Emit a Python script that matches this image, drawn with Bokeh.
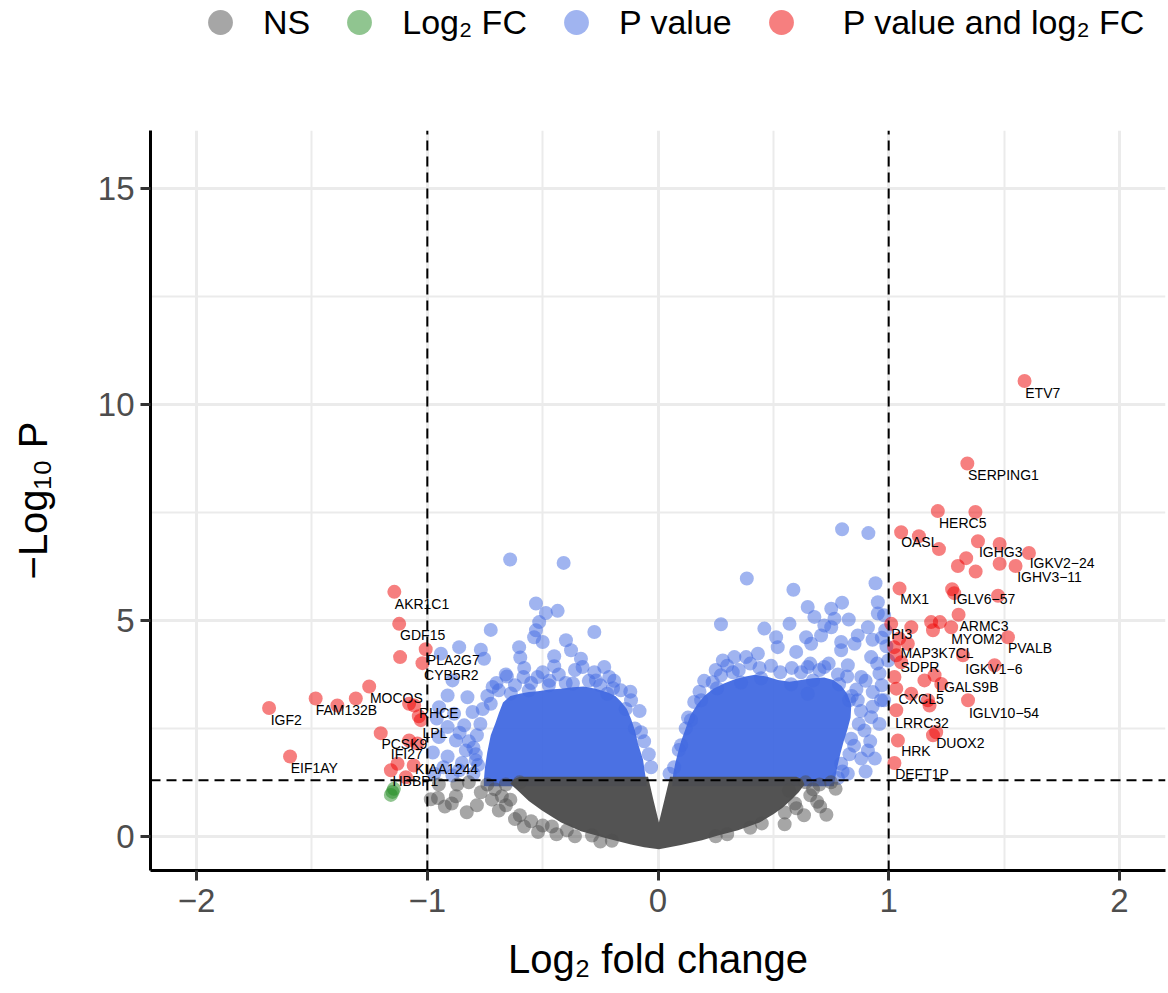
from bokeh.plotting import figure
from bokeh.models import (Range1d, FixedTicker, Legend, LegendItem, ColumnDataSource)
from bokeh.layouts import column
from bokeh.core.properties import value
from bokeh.embed import file_html
from bokeh.resources import INLINE
import math

# ---------------- data ----------------
fc_cutoff = 1.0
p_cutoff = 0.05

x_lo, x_hi = -2.2, 2.2
y_lo, y_hi = -0.79, 16.34

x_ticks = [-2, -1, 0, 1, 2]
x_minor = [-1.5, -0.5, 0.5, 1.5]
y_ticks = [0, 5, 10, 15]
y_minor = [2.5, 7.5, 12.5]

# dense cores of the cloud (envelopes of heavily overlapping points)
blue_left_x = [-0.755, -0.755, -0.750, -0.740, -0.725, -0.705, -0.690, -0.672, -0.640, -0.600, -0.560, -0.521,
               -0.470, -0.421, -0.370, -0.321, -0.270, -0.217, -0.185, -0.161, -0.135, -0.117, -0.100, -0.087,
               -0.065, -0.048]
blue_left_y = [1.16, 1.30, 1.60, 1.95, 2.34, 2.62, 2.85, 3.10, 3.25, 3.30, 3.34, 3.36, 3.40, 3.42, 3.45, 3.47,
               3.42, 3.33, 3.25, 3.12, 2.95, 2.72, 2.45, 2.15, 1.78, 1.16]
blue_right_x = [0.061, 0.066, 0.075, 0.087, 0.100, 0.120, 0.140, 0.170, 0.200, 0.240, 0.286, 0.330, 0.380,
                0.420, 0.470, 0.520, 0.570, 0.620, 0.670, 0.720, 0.760, 0.795, 0.820, 0.838, 0.835, 0.820,
                0.805, 0.790, 0.775, 0.762]
blue_right_y = [1.16, 1.45, 1.70, 1.95, 2.20, 2.50, 2.80, 3.05, 3.25, 3.42, 3.54, 3.63, 3.70, 3.74, 3.70, 3.62,
                3.58, 3.62, 3.66, 3.68, 3.62, 3.48, 3.30, 3.05, 2.75, 2.45, 2.20, 1.90, 1.55, 1.16]
grey_core_x = [-0.640, -0.625, -0.600, -0.043, -0.020, 0.004, 0.028, 0.052, 0.600, 0.625, 0.635, 0.610,
               0.580, 0.540, 0.500, 0.440, 0.347, 0.260, 0.191, 0.100, 0.004, -0.060, -0.117, -0.220,
               -0.334, -0.420, -0.503, -0.560, -0.600]
grey_core_y = [1.22, 1.32, 1.38, 1.38, 0.85, 0.32, 0.85, 1.38, 1.38, 1.32, 1.20, 1.02, 0.86, 0.66, 0.51, 0.32,
               0.14, 0.02, -0.09, -0.20, -0.30, -0.25, -0.19, -0.05, 0.12, 0.32, 0.60, 0.82, 1.02]

# NS (grey) individual points
ns_x = [-0.954, -0.924, -0.876, -0.829, -0.785, -0.768, -0.707, -0.677, -0.599, -0.581, -0.460, -0.395, -0.286,
        0.549, 0.633, 0.703, 0.594, 0.672, -0.985, -0.894, -0.659, 0.568,
        -0.74, -0.72, -0.69, -0.66, -0.64, -0.62, -0.55, -0.52, -0.50, -0.44, -0.36, -0.25, -0.20, -0.87,
        -0.82, -0.95, -0.60, 0.64, 0.66, 0.69, 0.70, 0.60, 0.55, 0.45, 0.40, 0.30, 0.25, 0.75, 0.73, 0.77]
ns_y = [0.89, 0.69, 0.93, 0.56, 0.72, 1.02, 1.09, 0.93, 0.49, 0.23, 0.23, 0.14, 0.02,
        0.28, 0.49, 0.69, 0.76, 1.09, 0.86, 0.76, 0.72, 1.06,
        1.20, 0.85, 0.60, 1.20, 0.85, 0.40, 0.35, 0.10, 0.25, 0.05, 0.00, -0.12, -0.10, 1.20,
        1.25, 1.20, 1.25, 1.25, 0.95, 0.80, 1.20, 0.65, 0.55, 0.30, 0.20, 0.05, 0.00, 1.25, 0.50, 1.10]

# Log2 FC only (green)
fc_x = [-1.151, -1.158, -1.145]
fc_y = [1.03, 0.96, 1.10]

# P value only (blue)
pv_x = [-0.641, -0.409, -0.529, -0.486, -0.435, -0.515, -0.529, -0.537, -0.725, -0.276, -0.602, -0.399, -0.500,
        -0.862, -0.768, -0.941, -0.597, -0.450, -0.377, -0.334, -0.754, -0.450, -0.327, -0.233, -0.276, -0.211,
        -0.655, -0.583, -0.522, -0.891, -0.717, -0.912, -0.826, -0.725, -0.949, -0.884, -0.804, -0.840, -0.912,
        -0.876, -0.833, -0.912, -0.862, -0.891, -0.976, -0.959, -0.785, -0.790, -0.074, -0.117, -0.161, -0.690,
        -0.638, -0.560, -0.473, -0.369, -0.269, -0.195,
        -0.80, -0.78, -0.80, -0.77, -0.76, -0.74, -0.82, -0.85, -0.86, -0.79, -0.93, -0.95, -0.97,
        -0.70, -0.66, -0.62, -0.58, -0.55, -0.50, -0.47, -0.43, -0.40, -0.36, -0.30, -0.25, -0.22, -0.19,
        -0.14, -0.12, -0.10, -0.08, -0.06, -0.04, -0.03,
        0.798, 0.912, 0.385, 0.587, 0.943, 0.649, 0.751, 0.798, 0.953, 0.678, 0.273, 0.461, 0.570, 0.765, 0.827,
        0.721, 0.512, 0.642, 0.707, 0.751, 0.953, 0.980, 0.910, 0.866, 0.794, 0.852, 0.664, 0.599, 0.519, 0.433,
        0.331, 0.382, 0.281, 0.794, 0.924, 0.823, 0.649, 0.721, 0.324, 0.273, 0.237, 0.960, 0.881, 0.931, 0.967,
        0.866, 0.157, 0.924, 0.895, 0.837, 0.910, 0.881, 0.794, 0.823, 0.649, 0.985, 0.998, 0.980,
        0.187, 0.256, 0.360, 0.447, 0.577, 0.672, 0.785, 0.829, 0.143, 0.100,
        0.18, 0.20, 0.25, 0.30, 0.35, 0.40, 0.44, 0.49, 0.53, 0.58, 0.62, 0.66, 0.70, 0.74, 0.78, 0.82,
        0.86, 0.88, 0.87, 0.85, 0.83, 0.80, 0.78, 0.07, 0.09, 0.12, 0.13, 0.05, 0.90, 0.84,
        0.92, 0.94, 0.90, 0.96, 0.93, 0.97, 0.95, 0.99, 0.97, 0.93]
pv_y = [6.41, 6.33, 5.39, 5.17, 5.22, 4.96, 4.77, 4.61, 4.78, 4.73, 4.38, 4.54, 4.50,
        4.38, 4.32, 4.23, 4.14, 4.17, 4.31, 4.11, 4.11, 3.94, 3.92, 3.92, 3.80, 3.69,
        3.70, 3.69, 3.69, 3.61, 3.46, 3.26, 3.22, 3.07, 2.99, 2.84, 2.88, 2.57, 2.53,
        2.22, 1.99, 1.85, 1.53, 1.41, 1.94, 2.73, 2.34, 1.76, 2.41, 3.15, 3.38, 3.38,
        3.31, 3.38, 3.50, 3.54, 3.61, 3.43,
        1.45, 1.65, 2.05, 2.60, 2.95, 3.25, 2.20, 1.70, 2.40, 1.90, 1.60, 2.30, 1.45,
        3.55, 3.75, 3.50, 3.90, 3.55, 3.80, 3.60, 3.75, 3.55, 3.85, 3.60, 3.50, 3.30, 3.60,
        2.95, 3.35, 2.50, 2.90, 2.20, 1.90, 1.60,
        7.11, 7.02, 5.97, 5.71, 5.86, 5.31, 5.27, 5.41, 5.42, 5.08, 4.91, 4.81, 4.92, 5.04, 5.02,
        4.88, 4.61, 4.61, 4.65, 4.84, 5.16, 5.12, 4.84, 4.65, 4.50, 4.46, 4.46, 4.27, 4.38, 4.23,
        4.15, 4.15, 4.07, 4.31, 4.15, 3.96, 3.92, 3.92, 3.80, 3.73, 3.57, 3.77, 3.69, 3.34, 3.15,
        3.15, 3.11, 2.76, 2.45, 2.26, 1.99, 1.80, 1.68, 1.45, 3.30, 4.77, 4.07, 3.15,
        3.15, 3.43, 3.56, 3.66, 3.52, 3.61, 3.52, 3.15, 2.69, 2.11,
        3.35, 3.60, 3.85, 3.95, 3.85, 4.00, 3.90, 3.95, 3.80, 3.90, 3.80, 4.00, 3.85, 4.00, 3.75, 3.70,
        3.40, 2.90, 2.60, 2.10, 1.90, 1.50, 1.35, 1.60, 2.00, 2.50, 2.75, 1.45, 3.60, 3.25,
        2.20, 1.80, 1.50, 2.60, 3.00, 3.50, 4.00, 4.40, 4.60, 4.55]

# P value and log2 FC (red)
sig_x = [1.589, 1.341, 1.213, 1.376, 1.054, 1.131, 1.218, 1.387, 1.481, 1.608, 1.336, 1.300, 1.550, 1.481, 1.377,
         1.047, 1.275, 1.284, 1.474, 1.303, 1.222, 1.184, 1.271, 1.192, 1.098, 1.011, 1.517, 1.046, 1.024, 1.083,
         1.033, 1.054, 1.322, 1.459, 1.025, 1.155, 1.199, 1.228, 1.033, 1.098, 1.170, 1.177, 1.344, 1.033, 1.192,
         1.206, 1.040, 1.025,
         -1.143, -1.122, -1.007, -1.118, -1.021, -1.252, -1.310, -1.390, -1.484, -1.686, -1.079, -1.057, -1.028,
         -1.037, -1.202, -1.079, -1.043, -1.595, -1.129, -1.158, -1.093, -1.059]
sig_y = [10.54, 8.63, 7.53, 7.51, 7.04, 6.95, 6.65, 6.83, 6.77, 6.56, 6.44, 6.26, 6.26, 6.31, 6.13,
         5.74, 5.72, 5.63, 5.57, 5.13, 4.96, 4.96, 4.84, 4.77, 4.84, 4.92, 4.61, 4.58, 4.38, 4.46,
         4.19, 4.03, 4.19, 3.96, 3.69, 3.61, 3.73, 3.53, 3.42, 3.30, 3.15, 3.03, 3.15, 2.92, 2.34,
         2.41, 2.22, 1.70,
         5.66, 4.92, 4.33, 4.15, 4.01, 3.47, 3.19, 3.03, 3.19, 2.97, 3.07, 3.03, 2.69,
         2.78, 2.39, 2.22, 2.15, 1.85, 1.68, 1.53, 1.37, 1.64]

# gene labels
gene_names = ["ETV7", "SERPING1", "HERC5", "OASL", "IGHG3", "IGKV2\u221224", "IGHV3\u221211", "MX1", "IGLV6\u221257",
              "ARMC3", "PI3", "MYOM2", "PVALB", "MAP3K7CL", "SDPR", "IGKV1\u22126", "LGALS9B", "CXCL5",
              "IGLV10\u221254", "LRRC32", "DUOX2", "HRK", "DEFT1P",
              "AKR1C1", "GDF15", "PLA2G7", "CYB5R2", "MOCOS", "FAM132B", "IGF2", "RHCE", "LPL", "PCSK9",
              "IFI27", "EIF1AY", "KIAA1244", "HBBP1"]
gene_lx = [1.592, 1.344, 1.218, 1.054, 1.391, 1.611, 1.557, 1.050, 1.278,
           1.307, 1.011, 1.271, 1.517, 1.051, 1.051, 1.332, 1.206, 1.043,
           1.348, 1.028, 1.206, 1.054, 1.028,
           -1.141, -1.118, -1.002, -1.014, -1.249, -1.484, -1.679, -1.036, -1.021, -1.199,
           -1.158, -1.592, -1.053, -1.151]
gene_ly = [10.27, 8.36, 7.26, 6.81, 6.58, 6.33, 6.00, 5.49, 5.49,
           4.88, 4.69, 4.58, 4.36, 4.24, 3.91, 3.88, 3.46, 3.17,
           2.86, 2.63, 2.15, 1.97, 1.45,
           5.39, 4.65, 4.09, 3.74, 3.21, 2.93, 2.70, 2.85, 2.40, 2.13,
           1.90, 1.58, 1.57, 1.28]

legend_labels = ["NS", "Log\u2082 FC", "P value", "\u00a0\u00a0P value and log\u2082 FC"]

# ---------------- styles ----------------
FONT = "Liberation Sans"
COL_NS, COL_FC, COL_P, COL_SIG = "#4D4D4D", "#228B22", "#4169E1", "#EE0000"
ALPHA = 0.5
SZ = 14
NAN = float("nan")

# ---------------- legend strip (own small figure above the plot; frames are aligned) ----------------
leg = figure(width=1168, height=130, output_backend="svg", toolbar_location=None,
             x_range=Range1d(0, 1), y_range=Range1d(0, 1),
             x_axis_location=None, y_axis_location=None,
             min_border_left=150, min_border_right=3, min_border_top=0, min_border_bottom=0)
leg.outline_line_color = None
leg.xgrid.visible = False
leg.ygrid.visible = False
# legend keys only: one undefined (NaN) point each, so nothing is drawn in the strip itself
leg_r = [leg.scatter(x=[NAN], y=[NAN], size=SZ, fill_color=c, fill_alpha=ALPHA, line_color=None)
         for c in (COL_NS, COL_FC, COL_P, COL_SIG)]
legend = Legend(items=[LegendItem(label=lab, renderers=[r], index=0) for lab, r in zip(legend_labels, leg_r)],
                orientation="horizontal", location=(39, 77),
                glyph_width=62, glyph_height=62, label_standoff=12, spacing=18,
                padding=0, margin=0, border_line_color=None, background_fill_alpha=0,
                label_text_font=FONT, label_text_font_size="34px", label_text_color="black")
leg.add_layout(legend, "center")

# ---------------- main plot ----------------
p = figure(width=1168, height=863, output_backend="svg", toolbar_location=None,
           x_range=Range1d(x_lo, x_hi), y_range=Range1d(y_lo, y_hi),
           min_border_left=150, min_border_right=3, min_border_top=0, min_border_bottom=123)
p.outline_line_color = None
p.background_fill_color = "white"

for g in (p.xgrid, p.ygrid):
    g.grid_line_color = "#EBEBEB"
    g.grid_line_width = 3
    g.minor_grid_line_color = "#EBEBEB"
    g.minor_grid_line_width = 2

p.xaxis.ticker = FixedTicker(ticks=x_ticks, minor_ticks=x_minor)
p.yaxis.ticker = FixedTicker(ticks=y_ticks, minor_ticks=y_minor)
p.xaxis.major_label_overrides = {t: (("\u2212" + str(abs(t))) if t < 0 else str(t)) for t in x_ticks}

for ax in (p.xaxis[0], p.yaxis[0]):
    ax.axis_line_color = "black"
    ax.axis_line_width = 3
    ax.major_tick_line_color = "#333333"
    ax.major_tick_line_width = 3
    ax.major_tick_out = 10
    ax.major_tick_in = 0
    ax.minor_tick_line_color = None
    ax.major_label_text_font = FONT
    ax.major_label_text_font_size = "33px"
    ax.major_label_text_color = "#4D4D4D"
    ax.axis_label_text_font = FONT
    ax.axis_label_text_font_size = "40px"
    ax.axis_label_text_font_style = "normal"
    ax.axis_label_text_color = "black"

p.xaxis.axis_label = "Log\u2082 fold change"
p.yaxis.axis_label = "\u2212Log\u2081\u2080 P"
p.xaxis.major_label_standoff = 8
p.yaxis.major_label_standoff = 6
p.xaxis.axis_label_standoff = 22
p.yaxis.axis_label_standoff = 40

# dense cores
p.patch(blue_left_x, blue_left_y, fill_color=COL_P, fill_alpha=0.95, line_color=None)
p.patch(blue_right_x, blue_right_y, fill_color=COL_P, fill_alpha=0.95, line_color=None)

r_pv = p.scatter(pv_x, pv_y, size=SZ, fill_color=COL_P, fill_alpha=ALPHA, line_color=None)
p.patch(grey_core_x, grey_core_y, fill_color=COL_NS, fill_alpha=0.97, line_color=None)
r_ns = p.scatter(ns_x, ns_y, size=SZ, fill_color=COL_NS, fill_alpha=ALPHA, line_color=None)
r_fc = p.scatter(fc_x, fc_y, size=SZ, fill_color=COL_FC, fill_alpha=ALPHA, line_color=None)
r_sig = p.scatter(sig_x, sig_y, size=SZ, fill_color=COL_SIG, fill_alpha=ALPHA, line_color=None)

# cut-off lines
p_line = -math.log10(p_cutoff)
p.segment(x0=[-fc_cutoff, fc_cutoff], y0=[y_lo, y_lo], x1=[-fc_cutoff, fc_cutoff], y1=[y_hi, y_hi],
          line_color="black", line_width=2, line_dash="10 6")
p.segment(x0=[x_lo], y0=[p_line], x1=[x_hi], y1=[p_line], line_color="black", line_width=2, line_dash="10 6")

# gene labels
src_lab = ColumnDataSource(dict(x=gene_lx, y=gene_ly, t=gene_names))
p.text(x="x", y="y", text="t", source=src_lab, text_font=value(FONT), text_font_size="14px",
       text_color="black", text_align="left", text_baseline="middle")

layout = column(leg, p, spacing=0)
open("out.html", "w").write(file_html(layout, INLINE))
